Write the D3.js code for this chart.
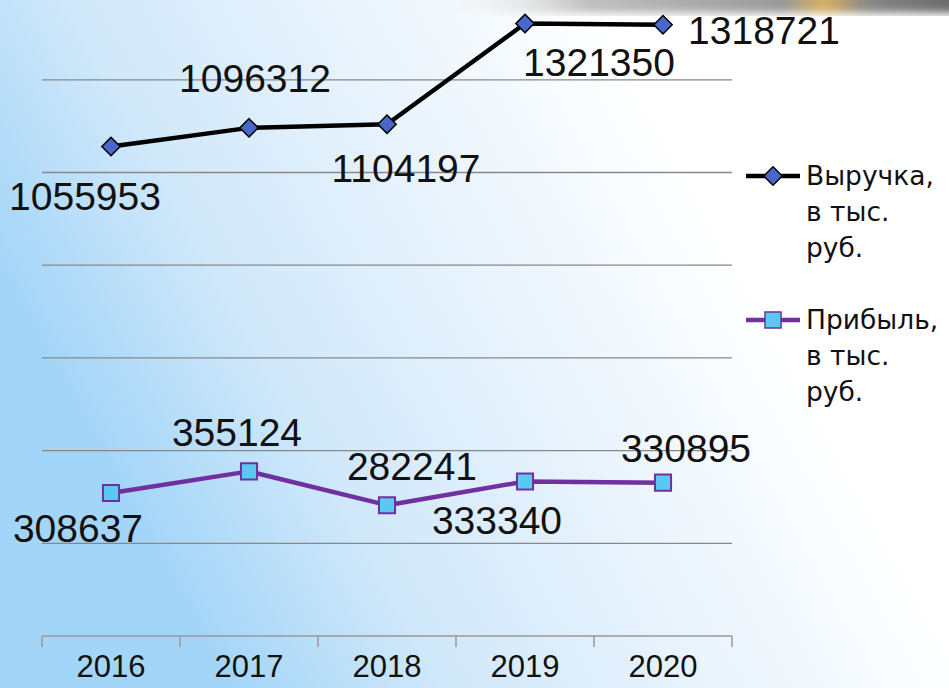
<!DOCTYPE html>
<html>
<head>
<meta charset="utf-8">
<script src="https://cdn.jsdelivr.net/npm/d3@7"></script>
<style>
  body { margin: 0; background: #fff; }
  svg { display: block; }
</style>
</head>
<body>
<div id="chart"></div>
<script>
// data
const years = ['2016', '2017', '2018', '2019', '2020'];
const revenue = [1055953, 1096312, 1104197, 1321350, 1318721];
const profit = [308637, 355124, 282241, 333340, 330895];
const gridValues = [0, 200000, 400000, 600000, 800000, 1000000, 1200000, 1400000];
const seriesNames = ['Выручка,', 'Прибыль,'];
const unitLines = ['в тыс.', 'руб.'];

// label placement (offset of the label centre from its point)
const revLabelPos = [[-26, 49], [6, -50], [19, 44], [74, 38], [101, 5]];
const profLabelPos = [[-33, 35], [-12, -39], [25, -39], [-28, 39], [23, -35]];

const width = 949, height = 688;

const svg = d3.select('#chart')
   .append('svg')
   .attr('width', width)
   .attr('height', height);

const defs = svg.append('defs');

const bg = defs.append('linearGradient')
   .attr('id', 'bg')
   .attr('x1', '0').attr('y1', '0.4')
   .attr('x2', '1').attr('y2', '0');
bg.append('stop').attr('offset', '0').attr('stop-color', '#a3d5f8');
bg.append('stop').attr('offset', '0.2').attr('stop-color', '#d0e8fa');
bg.append('stop').attr('offset', '0.45').attr('stop-color', '#eaf4fd');
bg.append('stop').attr('offset', '0.68').attr('stop-color', '#ffffff');

const topBand = defs.append('linearGradient')
   .attr('id', 'topband')
   .attr('x1', '0').attr('y1', '0').attr('x2', '1').attr('y2', '0');
topBand.append('stop').attr('offset', '0').attr('stop-color', '#ffffff').attr('stop-opacity', 0);
topBand.append('stop').attr('offset', '0.3').attr('stop-color', '#c0c0c0');
topBand.append('stop').attr('offset', '0.65').attr('stop-color', '#999');
topBand.append('stop').attr('offset', '0.72').attr('stop-color', '#d8b060');
topBand.append('stop').attr('offset', '0.8').attr('stop-color', '#888');
topBand.append('stop').attr('offset', '1').attr('stop-color', '#606060');

defs.append('filter').attr('id', 'blur')
   .append('feGaussianBlur').attr('stdDeviation', 4);

svg.append('rect')
   .attr('width', width).attr('height', height)
   .attr('fill', 'url(#bg)');

svg.append('rect')
   .attr('x', 420).attr('y', -14)
   .attr('width', 560).attr('height', 27)
   .attr('fill', 'url(#topband)')
   .attr('filter', 'url(#blur)');

const x = d3.scaleBand()
   .domain(years)
   .range([42, 732]);

const y = d3.scaleLinear()
   .domain([0, 1400000])
   .range([636, 636 - 7 * 92.7]);

// gridlines
svg.append('g')
   .selectAll('line')
   .data(gridValues.slice(1))
   .enter()
   .append('line')
   .attr('x1', 42).attr('x2', 732)
   .attr('y1', d => y(d)).attr('y2', d => y(d))
   .attr('stroke', '#888')
   .attr('stroke-width', 1.3);

// x axis
const xAxis = svg.append('g')
   .attr('transform', 'translate(0,' + y(0) + ')')
   .call(d3.axisBottom(x).tickSize(0).tickPadding(41));
xAxis.select('.domain').remove();
xAxis.selectAll('text')
   .attr('font-family', 'Liberation Sans, Arial, sans-serif')
   .attr('font-size', 31)
   .attr('fill', '#111')
   .attr('dy', '0');

xAxis.append('line')
   .attr('x1', 42).attr('x2', 732)
   .attr('stroke', '#999').attr('stroke-width', 1.5);
xAxis.selectAll('.edge')
   .data(years.map(d => x(d)).concat([x.range()[1]]))
   .enter()
   .append('line')
   .attr('class', 'edge')
   .attr('x1', d => d).attr('x2', d => d)
   .attr('y1', 0).attr('y2', 11)
   .attr('stroke', '#999').attr('stroke-width', 1.5);

const cx = d => x(d) + x.bandwidth() / 2;

const line = d3.line()
   .x((d, i) => cx(years[i]))
   .y(d => y(d));

const labelFont = 'Liberation Sans, Arial, sans-serif';

function drawLabels(values, pos) {
   svg.append('g')
      .selectAll('text')
      .data(values)
      .enter()
      .append('text')
      .attr('x', (d, i) => cx(years[i]) + pos[i][0])
      .attr('y', (d, i) => y(d) + pos[i][1] + 14)
      .attr('text-anchor', 'middle')
      .attr('font-family', labelFont)
      .attr('font-size', 39)
      .attr('fill', '#111')
      .text(d => d);
}

// revenue
svg.append('path')
   .datum(revenue)
   .attr('d', line)
   .attr('fill', 'none')
   .attr('stroke', '#000')
   .attr('stroke-width', 4.5)
   .attr('stroke-linejoin', 'round');

const diamond = d3.symbol().type(d3.symbolDiamond2).size(215);
const square = d3.symbol().type(d3.symbolSquare2).size(330);

svg.append('g')
   .selectAll('path')
   .data(revenue)
   .enter()
   .append('path')
   .attr('d', diamond)
   .attr('transform', (d, i) => 'translate(' + cx(years[i]) + ',' + y(d) + ')')
   .attr('fill', '#4a68cc')
   .attr('stroke', '#000')
   .attr('stroke-width', 1.5);

// profit
svg.append('path')
   .datum(profit)
   .attr('d', line)
   .attr('fill', 'none')
   .attr('stroke', '#7030a0')
   .attr('stroke-width', 4.5)
   .attr('stroke-linejoin', 'round');

svg.append('g')
   .selectAll('path')
   .data(profit)
   .enter()
   .append('path')
   .attr('d', square)
   .attr('transform', (d, i) => 'translate(' + cx(years[i]) + ',' + y(d) + ')')
   .attr('fill', '#5bc8f0')
   .attr('stroke', '#7030a0')
   .attr('stroke-width', 2);

drawLabels(revenue, revLabelPos);
drawLabels(profit, profLabelPos);

// legend
const legendItems = [
   { name: seriesNames[0], color: '#000', marker: diamond, fill: '#4a68cc', stroke: '#000', y: 176 },
   { name: seriesNames[1], color: '#7030a0', marker: square, fill: '#5bc8f0', stroke: '#7030a0', y: 320 }
];

const legend = svg.selectAll('.legend')
   .data(legendItems)
   .enter()
   .append('g')
   .attr('class', 'legend')
   .attr('transform', d => 'translate(0,' + d.y + ')');

legend.append('line')
   .attr('x1', 746).attr('x2', 800)
   .attr('stroke', d => d.color)
   .attr('stroke-width', 4.5);

legend.append('path')
   .attr('d', d => d.marker())
   .attr('transform', 'translate(773,0)')
   .attr('fill', d => d.fill)
   .attr('stroke', d => d.stroke)
   .attr('stroke-width', 1.5);

const legendText = legend.append('text')
   .attr('font-family', 'DejaVu Sans, Verdana, sans-serif')
   .attr('font-size', 26.5)
   .attr('fill', '#111');

legendText.append('tspan')
   .attr('x', 806).attr('y', 9)
   .text(d => d.name);
unitLines.forEach((t, k) => {
   legendText.append('tspan')
      .attr('x', 806).attr('y', 9 + 36 * (k + 1))
      .text(t);
});
</script>
</body>
</html>
